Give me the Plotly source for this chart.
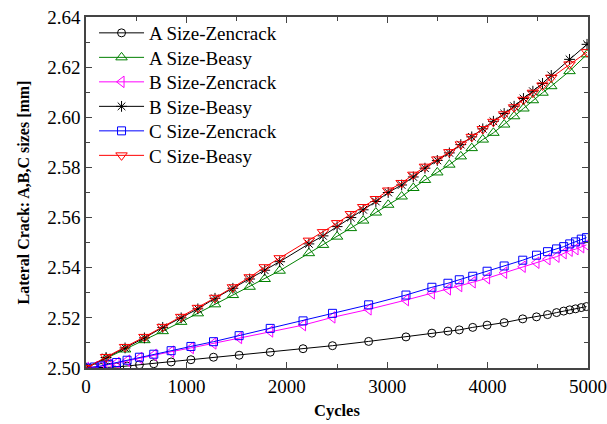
import plotly.graph_objects as go

# Zencrack cycles (shared)
zen_cycles = [0, 83, 150, 226, 305, 409, 532, 675, 848, 1045, 1270, 1525, 1835, 2162,
              2455, 2815, 3187, 3445, 3605, 3718, 3852, 3995, 4165, 4350, 4487, 4597,
              4687, 4758, 4818, 4876, 4933, 4985]
a_zen = [2.5000, 2.5001, 2.5002, 2.5003, 2.5004, 2.5008, 2.5013, 2.5017, 2.5024, 2.5033,
         2.5043, 2.5051, 2.5063, 2.5077, 2.5089, 2.5106, 2.5124, 2.5139, 2.5147, 2.5152,
         2.5162, 2.5171, 2.5181, 2.5196, 2.5204, 2.5213, 2.5221, 2.5227, 2.5232, 2.5236,
         2.5241, 2.5245]
b_zen = [2.5000, 2.5003, 2.5007, 2.5013, 2.5020, 2.5029, 2.5040, 2.5052, 2.5065, 2.5080,
         2.5098, 2.5120, 2.5146, 2.5171, 2.5202, 2.5234, 2.5271, 2.5298, 2.5314, 2.5327,
         2.5342, 2.5358, 2.5380, 2.5404, 2.5420, 2.5434, 2.5444, 2.5458, 2.5468, 2.5474,
         2.5482, 2.5491]
c_zen = [2.5000, 2.5004, 2.5008, 2.5015, 2.5022, 2.5031, 2.5043, 2.5055, 2.5069, 2.5086,
         2.5105, 2.5129, 2.5158, 2.5188, 2.5218, 2.5252, 2.5291, 2.5322, 2.5338, 2.5352,
         2.5366, 2.5386, 2.5407, 2.5430, 2.5450, 2.5464, 2.5475, 2.5484, 2.5495, 2.5503,
         2.5514, 2.5520]

# Beasy cycles (shared)
beasy_cycles = [0, 200, 389, 582, 764, 948, 1114, 1285, 1463, 1630, 1780, 1929, 2220, 2361,
                2501, 2638, 2761, 2887, 3010, 3144, 3260, 3376, 3499, 3619, 3733, 3842,
                3952, 4058, 4165, 4264, 4357, 4451, 4547, 4634, 4816, 4990]
a_beasy = [2.5000, 2.5038, 2.5074, 2.5111, 2.5147, 2.5184, 2.5218, 2.5254, 2.5291, 2.5324,
           2.5355, 2.5388, 2.5458, 2.5491, 2.5524, 2.5558, 2.5588, 2.5620, 2.5651, 2.5684,
           2.5718, 2.5750, 2.5780, 2.5811, 2.5844, 2.5877, 2.5911, 2.5938, 2.5971, 2.6004,
           2.6035, 2.6068, 2.6098, 2.6124, 2.6184, 2.6251]
b_beasy = [2.5000, 2.5042, 2.5080, 2.5120, 2.5162, 2.5200, 2.5236, 2.5278, 2.5318, 2.5355,
           2.5390, 2.5424, 2.5495, 2.5527, 2.5564, 2.5600, 2.5631, 2.5664, 2.5700, 2.5730,
           2.5762, 2.5797, 2.5828, 2.5858, 2.5891, 2.5922, 2.5954, 2.5984, 2.6015, 2.6044,
           2.6075, 2.6104, 2.6135, 2.6167, 2.6231, 2.6291]
c_beasy = [2.5000, 2.5044, 2.5084, 2.5124, 2.5164, 2.5204, 2.5240, 2.5280, 2.5322, 2.5362,
           2.5402, 2.5438, 2.5508, 2.5542, 2.5578, 2.5614, 2.5642, 2.5674, 2.5708, 2.5738,
           2.5771, 2.5803, 2.5832, 2.5861, 2.5892, 2.5922, 2.5953, 2.5982, 2.6012, 2.6040,
           2.6070, 2.6098, 2.6127, 2.6158, 2.6211, 2.6260]

names = ["A Size-Zencrack", "A Size-Beasy", "B Size-Zencrack", "B Size-Beasy",
         "C Size-Zencrack", "C Size-Beasy"]

x_ticks = [0, 1000, 2000, 3000, 4000, 5000]
y_ticks = [2.50, 2.52, 2.54, 2.56, 2.58, 2.60, 2.62, 2.64]
x_title = "Cycles"
y_title = "Lateral Crack: A,B,C sizes [mm]"

series = [
    (zen_cycles, a_zen, "#000000", "circle-open", 8),
    (beasy_cycles, a_beasy, "#008000", "triangle-up-open", 10),
    (zen_cycles, b_zen, "#FF00FF", "triangle-left-open", 10),
    (beasy_cycles, b_beasy, "#000000", "asterisk-open", 9),
    (zen_cycles, c_zen, "#0000FF", "square-open", 8),
    (beasy_cycles, c_beasy, "#FF0000", "triangle-down-open", 10),
]

serif = "Liberation Serif, Times New Roman, serif"

fig = go.Figure()
legend_layout = {}
for i, (name, (xs, ys, col, sym, sz)) in enumerate(zip(names, series)):
    lg = "legend" if i == 0 else f"legend{i + 1}"
    fig.add_trace(go.Scatter(
        x=xs, y=ys, name=name, mode="lines+markers",
        line=dict(color=col, width=1),
        marker=dict(symbol=sym, size=sz, color=col, line=dict(color=col, width=1)),
        legend=lg,
    ))
    # one legend per entry, stacked with the reference's row spacing
    legend_layout[lg] = dict(
        x=0.016, y=0.9544 - i * 0.0698, xanchor="left", yanchor="middle",
        bgcolor="rgba(0,0,0,0)", borderwidth=0,
        font=dict(family=serif, size=19, color="#000000"),
        itemwidth=45,
    )

axis_common = dict(
    showline=True, linecolor="#444444", linewidth=1.5, mirror="ticks",
    ticks="inside", ticklen=6, tickcolor="#444444", tickwidth=1.2,
    showgrid=False, zeroline=False, automargin=False, ticklabeloverflow="allow",
    tickfont=dict(family=serif, size=19, color="#000000"),
)

fig.update_layout(
    width=607, height=424,
    margin=dict(l=86, r=19, t=17, b=56),
    paper_bgcolor="white", plot_bgcolor="white",
    font=dict(family=serif, color="#000000"),
    xaxis=dict(range=[0, 5000], tickvals=x_ticks,
               minor=dict(tickvals=[500, 1500, 2500, 3500, 4500], ticks="inside",
                          ticklen=4, tickcolor="#444444"),
               **axis_common),
    yaxis=dict(range=[2.50, 2.64], tickvals=y_ticks, tickformat=".2f",
               minor=dict(tickvals=[2.51, 2.53, 2.55, 2.57, 2.59, 2.61, 2.63], ticks="inside",
                          ticklen=4, tickcolor="#444444"),
               **axis_common),
    showlegend=True,
    annotations=[
        dict(text="<b>" + x_title + "</b>", xref="paper", yref="paper",
             x=0.5, y=0, yshift=-42, xanchor="center", yanchor="middle", showarrow=False,
             font=dict(family=serif, size=16.5, color="#000000")),
        dict(text="<b>" + y_title + "</b>", xref="paper", yref="paper",
             x=0, y=0.5, xshift=-63, xanchor="center", yanchor="middle",
             textangle=-90, showarrow=False,
             font=dict(family=serif, size=16, color="#000000")),
    ],
    **legend_layout,
)

# remove the page's default 8px body margin so the figure fills the window exactly
fig.write_html("out.html", config={"displayModeBar": False},
               post_script="document.body.style.margin='0px';")
